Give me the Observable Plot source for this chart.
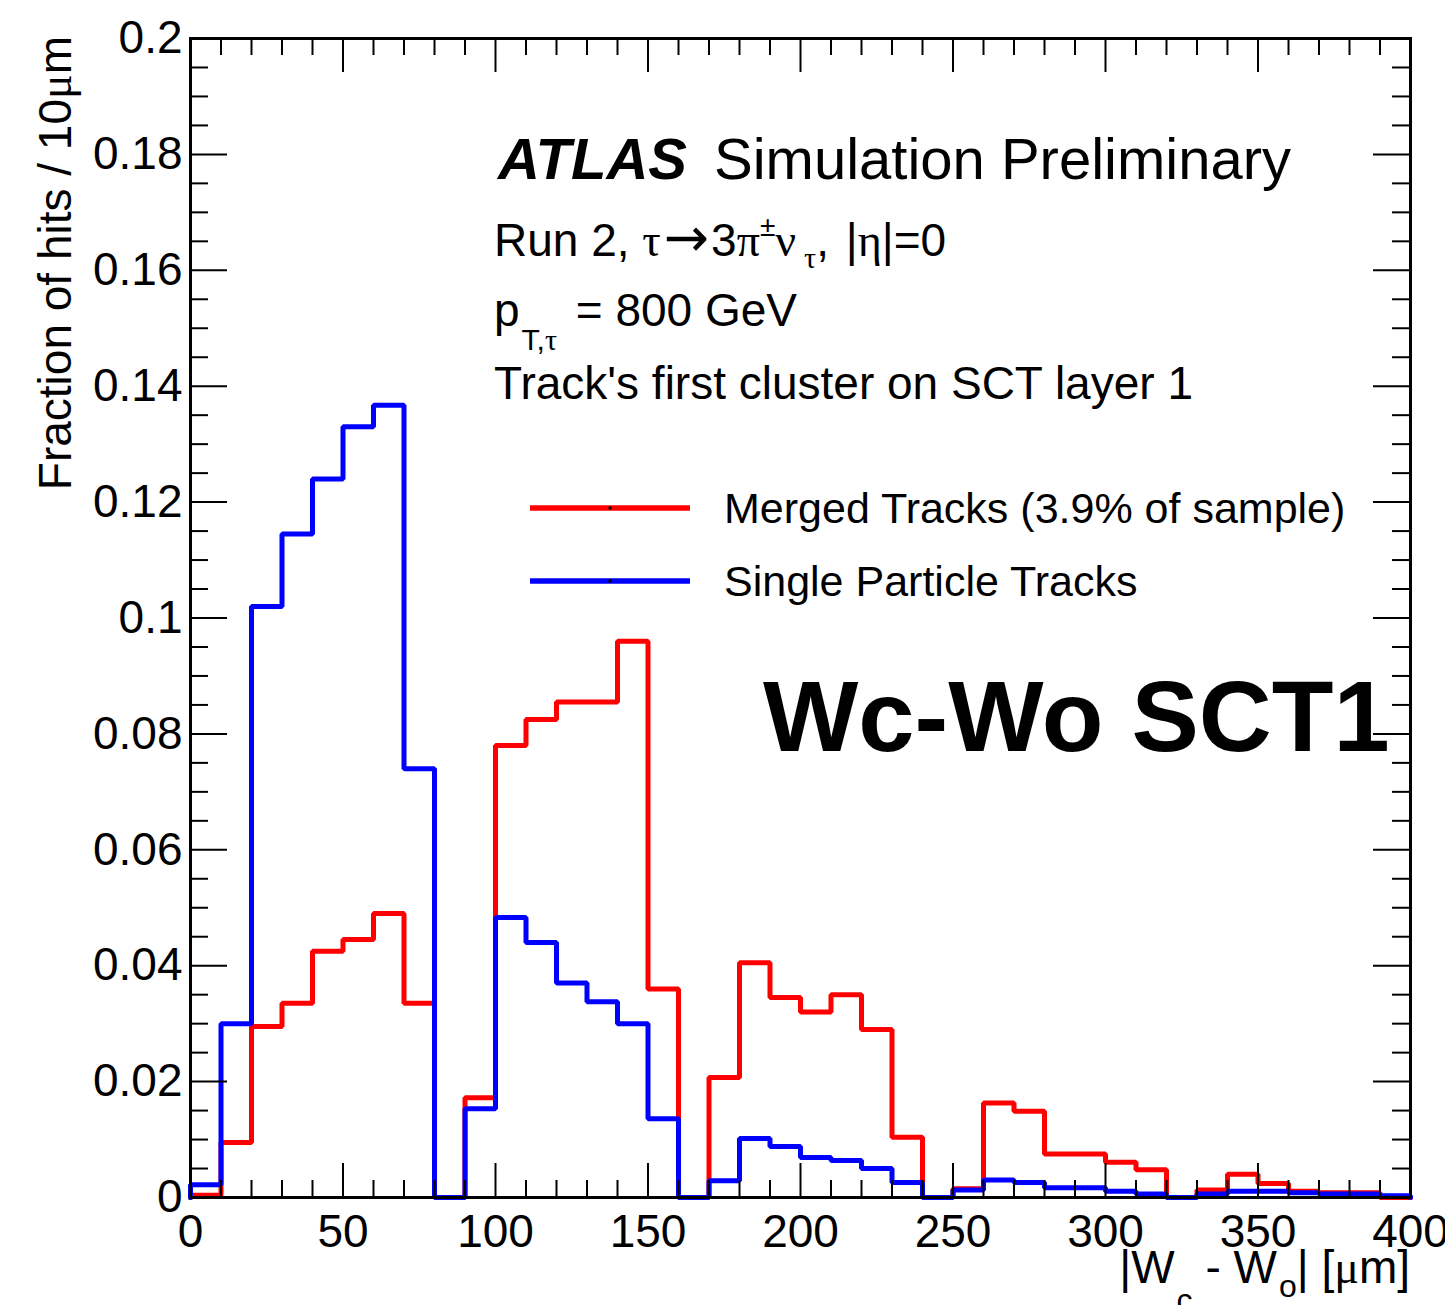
<!DOCTYPE html>
<html>
<head>
<meta charset="utf-8">
<script src="https://cdn.jsdelivr.net/npm/d3@7"></script>
<script src="https://cdn.jsdelivr.net/npm/@observablehq/plot@0.6"></script>
<style>
  html, body { margin: 0; padding: 0; background: white; }
  svg { display: block; }
</style>
</head>
<body>
<div id="chart"></div>
<script>
// ---------- data ----------
const binWidth = 10;
const binLow = d3.range(0, 400, binWidth); // lower edges of the 40 bins (µm)

const mergedTracks = [
  0.0004, 0.0095, 0.0295, 0.0335, 0.0425, 0.0445, 0.0490, 0.0335, 0.0000, 0.0172,
  0.0780, 0.0825, 0.0855, 0.0855, 0.0960, 0.0360, 0.0000, 0.0207, 0.0405, 0.0345,
  0.0320, 0.0350, 0.0290, 0.0104, 0.0000, 0.0015, 0.0163, 0.0149, 0.0075, 0.0075,
  0.0061, 0.0048, 0.0000, 0.0013, 0.0040, 0.0024, 0.0011, 0.0008, 0.0008, 0.0000
];
const singleTracks = [
  0.0022, 0.0300, 0.1020, 0.1145, 0.1240, 0.1330, 0.1367, 0.0740, 0.0000, 0.0153,
  0.0483, 0.0440, 0.0370, 0.0338, 0.0300, 0.0136, 0.0000, 0.0029, 0.0102, 0.0088,
  0.0069, 0.0064, 0.0050, 0.0026, 0.0000, 0.0013, 0.0030, 0.0026, 0.0017, 0.0017,
  0.0011, 0.0006, 0.0000, 0.0006, 0.0011, 0.0011, 0.0008, 0.0006, 0.0006, 0.0003
];

const xMajorTicks = [0, 50, 100, 150, 200, 250, 300, 350, 400];
const xMinorTicks = d3.range(0, 401, 10).filter(d => !xMajorTicks.includes(d));
const yMajorTicks = [0, 0.02, 0.04, 0.06, 0.08, 0.1, 0.12, 0.14, 0.16, 0.18, 0.2];
const yTickLabels = ["0", "0.02", "0.04", "0.06", "0.08", "0.1", "0.12", "0.14", "0.16", "0.18", "0.2"];
const yMinorTicks = d3.range(0, 41).map(i => i * 0.005).filter((d, i) => i % 4 !== 0);

// ---------- layout ----------
const W = 1445, H = 1305, mL = 190, mR = 35, mT = 38, mB = 108;
const innerW = W - mL - mR, innerH = H - mT - mB;
const SANS = "'Liberation Sans', Arial, Helvetica, sans-serif";
const SERIF = "'Liberation Serif', 'DejaVu Serif', serif";
const ARROWFONT = "'DejaVu Sans', sans-serif";

function stepPoints(values) {
  const pts = [{x: 0, y: 0}];
  values.forEach((v, i) => pts.push({x: binLow[i], y: v}));
  pts.push({x: binLow[binLow.length - 1] + binWidth, y: values[values.length - 1]});
  pts.push({x: binLow[binLow.length - 1] + binWidth, y: 0});
  return pts;
}

const chart = Plot.plot({
  width: W, height: H,
  marginLeft: mL, marginRight: mR, marginTop: mT, marginBottom: mB,
  style: {fontFamily: SANS, fontSize: "46px", background: "white", color: "black"},
  x: {domain: [0, 400], label: null},
  y: {domain: [0, 0.2], label: null},
  marks: [
    Plot.line(stepPoints(mergedTracks), {x: "x", y: "y", curve: "step-after", stroke: "#ff0000", strokeWidth: 5, strokeLinejoin: "miter"}),
    Plot.line(stepPoints(singleTracks), {x: "x", y: "y", curve: "step-after", stroke: "#0000ff", strokeWidth: 5, strokeLinejoin: "miter"}),
    // inward ticks, bottom & top
    Plot.tickX(xMajorTicks, {x: d => d, insetTop: innerH - 34, stroke: "black", strokeWidth: 2}),
    Plot.tickX(xMajorTicks, {x: d => d, insetBottom: innerH - 34, stroke: "black", strokeWidth: 2}),
    Plot.tickX(xMinorTicks, {x: d => d, insetTop: innerH - 17, stroke: "black", strokeWidth: 2}),
    Plot.tickX(xMinorTicks, {x: d => d, insetBottom: innerH - 17, stroke: "black", strokeWidth: 2}),
    // inward ticks, left & right
    Plot.tickY(yMajorTicks, {y: d => d, insetRight: innerW - 37, stroke: "black", strokeWidth: 2}),
    Plot.tickY(yMajorTicks, {y: d => d, insetLeft: innerW - 37, stroke: "black", strokeWidth: 2}),
    Plot.tickY(yMinorTicks, {y: d => d, insetRight: innerW - 18, stroke: "black", strokeWidth: 2}),
    Plot.tickY(yMinorTicks, {y: d => d, insetLeft: innerW - 18, stroke: "black", strokeWidth: 2}),
    Plot.axisX({ticks: xMajorTicks, tickSize: 0, tickPadding: 17, fontSize: 46, label: null}),
    Plot.axisY({ticks: yMajorTicks, tickSize: 0, tickPadding: 8, fontSize: 46, label: null,
                tickFormat: d => yTickLabels[yMajorTicks.indexOf(d)]}),
    Plot.frame({stroke: "black", strokeWidth: 3})
  ]
});
document.getElementById("chart").appendChild(chart);

// ---------- annotations ----------
const svg = d3.select(chart);
function rich(x, y, parts, opts = {}) {
  const t = svg.append("text")
    .attr("x", x).attr("y", y)
    .attr("text-anchor", opts.anchor || "start")
    .attr("font-family", SANS)
    .attr("font-size", opts.size || 46)
    .attr("fill", "black");
  if (opts.transform) t.attr("transform", opts.transform);
  for (const p of parts) {
    const s = t.append("tspan").text(p.t);
    if (p.size) s.attr("font-size", p.size);
    if (p.dy) s.attr("dy", p.dy);
    if (p.dx) s.attr("dx", p.dx);
    if (p.serif) s.attr("font-family", SERIF);
    if (p.family) s.attr("font-family", p.family);
    if (p.bold) s.attr("font-weight", "bold");
    if (p.italic) s.attr("font-style", "italic");
  }
  return t;
}

rich(498, 179, [
  {t: "ATLAS", bold: true, italic: true},
  {t: "Simulation Preliminary", dx: 27}
], {size: 58});

rich(494, 256, [
  {t: "Run 2, "},
  {t: "τ", serif: true},
  {t: "→", family: ARROWFONT, size: 54, dx: 3},
  {t: "3", size: 46, dx: 2},
  {t: "π", serif: true},
  {t: "±", size: 28, dy: -20},
  {t: "ν", serif: true, size: 46, dy: 20},
  {t: "τ", serif: true, size: 30, dy: 12, dx: 8},
  {t: ", ", size: 46, dy: -12},
  {t: "|", dx: 4},
  {t: "η", serif: true},
  {t: "|=0"}
]);

rich(494, 326, [
  {t: "p"},
  {t: "T,", size: 30, dy: 24, dx: 2},
  {t: "τ", size: 30, serif: true},
  {t: " = 800 GeV", size: 46, dy: -24, dx: 6}
]);

rich(494, 399, [{t: "Track's first cluster on SCT layer 1"}]);

// legend
const legend = [
  {label: "Merged Tracks (3.9% of sample)", color: "#ff0000", y: 508},
  {label: "Single Particle Tracks", color: "#0000ff", y: 581}
];
for (const l of legend) {
  svg.append("line").attr("x1", 530).attr("x2", 690).attr("y1", l.y).attr("y2", l.y)
    .attr("stroke", l.color).attr("stroke-width", 5.5);
  svg.append("rect").attr("x", 608.5).attr("y", l.y - 1.5).attr("width", 3).attr("height", 3).attr("fill", "black");
  rich(724, l.y + 14.5, [{t: l.label}], {size: 43});
}

rich(763, 751, [{t: "Wc-Wo SCT1", bold: true}], {size: 101});

// axis titles
rich(0, 0, [
  {t: "Fraction of hits / 10"},
  {t: "μ", serif: true},
  {t: "m"}
], {anchor: "end", transform: "translate(71,36) rotate(-90)"});

rich(1410, 1283, [
  {t: "|W"},
  {t: "c", size: 32, dy: 28, dx: 2},
  {t: " - W", size: 46, dy: -28},
  {t: "o", size: 32, dy: 14, dx: 2},
  {t: "| [", size: 46, dy: -14},
  {t: "μ", serif: true},
  {t: "m]"}
], {anchor: "end"});
</script>
</body>
</html>
